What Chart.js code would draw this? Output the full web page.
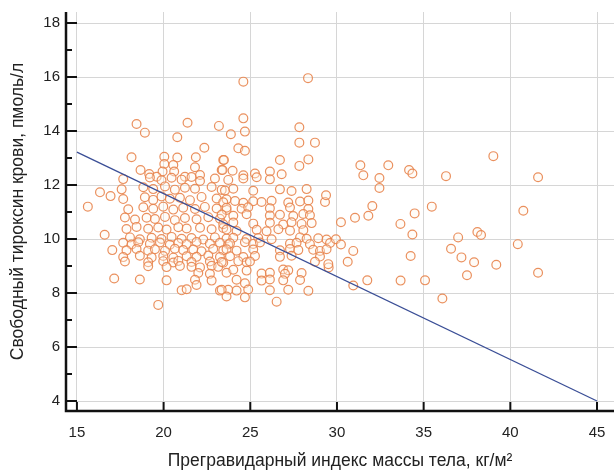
<!DOCTYPE html>
<html>
<head>
<meta charset="utf-8">
<script src="https://cdn.jsdelivr.net/npm/chart.js@4/dist/chart.umd.min.js"></script>
<style>
  html, body { margin: 0; padding: 0; background: #fff; }
  #wrap { width: 614px; height: 470px; }
</style>
</head>
<body>
<div id="wrap"><canvas id="chart" width="614" height="470"></canvas></div>
<script>
const upperLeft = [
  [18.44,14.26],[18.92,13.94],[21.38,14.31],[23.19,14.19],[20.79,13.77],[22.35,13.38],
  [18.15,13.03],[20.04,13.05],[20.79,13.02],[21.86,13.03],[23.44,12.93],[20.04,12.78],
  [20.56,12.74],[19.94,12.50],[20.61,12.50],[21.81,12.66],[18.67,12.56],[19.17,12.41],
  [19.60,12.31],[21.23,12.31],[22.10,12.37],[23.35,12.56]
];
const upperMid = [
  [24.60,15.83],[28.33,15.96],[24.60,14.47],[23.88,13.88],[24.69,13.98],[27.83,14.14],
  [27.83,13.57],[28.73,13.57],[24.31,13.36],[24.69,13.27],[23.48,12.93],[26.71,12.93],
  [28.35,12.95],[27.83,12.71],[23.40,12.56],[23.98,12.53],[24.60,12.36],[25.27,12.43],
  [26.13,12.50],[26.81,12.40]
];
const coreLeftHigh = [
  [17.67,12.22],[19.21,12.28],[19.88,12.18],[20.46,12.27],[21.04,12.20],[21.61,12.30],[22.10,12.15],[22.96,12.24],[23.73,12.19],
  [17.58,11.84],[18.83,11.92],[19.40,11.85],[20.08,11.95],[20.65,11.83],[21.23,11.90],[21.81,11.86],[22.77,11.93],[23.35,11.82],
  [17.67,11.48],[18.92,11.55],[19.40,11.45],[19.88,11.58],[20.36,11.49],[20.94,11.53],[21.52,11.44],[22.19,11.56],[23.06,11.50],[23.63,11.47],
  [17.96,11.10],[18.83,11.18],[19.40,11.12],[19.98,11.20],[20.56,11.09],[21.13,11.16],[21.81,11.11],[22.38,11.19],[23.06,11.13],[23.63,11.08],
  [17.77,10.80],[18.35,10.72],[19.02,10.79],[19.50,10.74],[20.08,10.82],[20.65,10.70],[21.23,10.78],[21.90,10.73],[22.58,10.81],[23.25,10.75],
  [17.86,10.37],[18.44,10.45],[19.11,10.38],[19.69,10.43],[20.17,10.35],[20.85,10.44],[21.33,10.39],[22.10,10.42],[22.77,10.36],[23.44,10.41],
  [18.06,10.06],[18.63,9.99],[19.31,10.05],[19.88,10.00],[20.46,10.08],[21.04,10.01],[21.61,10.04],[22.29,9.98],[22.96,10.06],[23.63,10.02]
];
const coreRightHigh = [
  [24.60,12.24],[25.37,12.29],[26.13,12.21],
  [23.54,11.80],[24.02,11.86],[25.17,11.79],[26.71,11.84],[27.38,11.78],[28.25,11.85],
  [23.44,11.36],[24.12,11.41],[24.60,11.34],[25.17,11.40],[25.65,11.37],[26.23,11.42],[27.19,11.35],[27.87,11.39],[28.35,11.43],[29.31,11.37],
  [23.63,11.16],[24.50,11.12],[24.88,11.18],[26.13,11.14],[27.29,11.17],[28.35,11.11],
  [23.35,10.91],[24.02,10.86],[24.79,10.92],[26.13,10.87],[26.71,10.90],[27.48,10.85],[28.06,10.93],[28.44,10.88],
  [23.44,10.55],[24.02,10.61],[25.17,10.57],[26.13,10.60],[26.90,10.54],[27.38,10.62],[27.96,10.56],[28.54,10.59],
  [23.63,10.35],[24.21,10.30],[25.37,10.34],[25.94,10.29],[26.62,10.36],[27.29,10.31],[28.06,10.33],
  [24.02,10.05],[24.79,10.00],[25.46,10.04],[26.23,9.99],[27.87,10.06],[28.25,10.01],[28.92,10.03],[29.40,9.98]
];
const coreLeftLow = [
  [17.67,9.86],[18.15,9.80],[18.54,9.88],[19.21,9.82],[19.79,9.87],[20.36,9.79],[20.85,9.85],[21.33,9.81],[21.90,9.89],[22.67,9.83],[23.25,9.86],[23.73,9.80],
  [17.86,9.58],[18.44,9.63],[19.11,9.57],[19.50,9.62],[20.08,9.56],[20.65,9.64],[21.13,9.59],[21.71,9.61],[22.19,9.55],[22.86,9.63],[23.44,9.58],
  [17.67,9.33],[18.63,9.38],[19.31,9.32],[19.98,9.37],[20.56,9.31],[21.33,9.36],[21.90,9.34],[22.58,9.39],[23.25,9.33],
  [17.77,9.17],[19.11,9.14],[19.98,9.18],[20.56,9.13],[20.85,9.19],[21.61,9.15],[22.67,9.17],[23.44,9.12],
  [19.11,8.99],[20.17,8.96],[20.94,9.00],[21.61,8.97],[22.10,8.95],[22.77,9.01],[23.15,8.97],
  [22.00,8.74],[22.67,8.71],[23.63,8.75],
  [18.63,8.50],[20.17,8.47],[21.81,8.49],[22.77,8.46],[21.90,8.30],
  [21.04,8.10],[21.33,8.14],[23.25,8.09],[23.73,8.12],[19.69,7.56]
];
const coreRightLow = [
  [23.83,9.84],[24.69,9.88],[25.17,9.82],[25.56,9.87],[27.29,9.83],[27.67,9.86],[28.44,9.81],[29.60,9.85],
  [23.63,9.62],[24.21,9.57],[25.17,9.61],[26.71,9.58],[27.29,9.63],[27.77,9.59],[28.63,9.60],[29.02,9.56],[29.40,9.62],
  [23.83,9.36],[24.60,9.33],[25.27,9.37],[26.71,9.34],[27.38,9.38],[29.02,9.35],
  [23.35,9.15],[24.31,9.18],[24.79,9.14],[24.98,9.17],[28.73,9.16],
  [24.02,8.86],[24.79,8.83],[26.90,8.87],[27.19,8.84],
  [25.65,8.72],[26.13,8.75],[27.00,8.71],[27.96,8.74],
  [24.21,8.49],[25.65,8.46],[26.13,8.50],[26.90,8.47],[27.87,8.48],[24.69,8.36],
  [23.35,8.12],[24.21,8.09],[24.88,8.13],[26.13,8.10],[27.19,8.12],[28.35,8.08],
  [23.63,7.87],[24.69,7.84],[26.52,7.68]
];
const rightTail = [
  [31.35,12.73],[32.96,12.73],[34.16,12.56],[34.35,12.43],[31.52,12.36],[32.45,12.26],[32.45,11.89],
  [29.37,11.62],[32.04,11.22],[31.81,10.86],[34.48,10.95],[35.47,11.20],[33.66,10.56],[34.35,10.17],
  [31.04,10.79],[30.23,10.62],[34.25,9.37],[30.94,9.56],[30.62,9.16],[31.75,8.47],[33.67,8.46],
  [35.08,8.47],[30.94,8.28],[29.94,9.99],[30.23,9.80],[29.52,8.95],[29.50,9.07],
  [39.02,13.07],[36.29,12.33],[41.60,12.29],[40.75,11.05],[38.10,10.26],[38.31,10.15],[36.99,10.06],
  [40.43,9.81],[36.58,9.64],[37.18,9.32],[37.91,9.14],[39.19,9.05],[37.50,8.66],[41.60,8.75],[36.08,7.80]
];
const leftTail = [
  [15.63,11.20],[16.33,11.73],[16.94,11.59],[16.60,10.16],[17.04,9.59],[17.15,8.54]
];

// линия регрессии
const fitX = [15, 45];
const fitY = [13.22, 4.0];

const xTicks = [15, 20, 25, 30, 35, 40, 45];
const yTicks = [4, 6, 8, 10, 12, 14, 16, 18];

const groups = [upperLeft, upperMid, coreLeftHigh, coreRightHigh, coreLeftLow, coreRightLow, rightTail, leftTail];
const points = [];
groups.forEach(g => g.forEach(p => points.push({ x: p[0], y: p[1] })));

const family = "'Liberation Sans', Arial, sans-serif";
const tickFont = { family: family, size: 15 };
const titleFont = { family: family, size: 17.5, lineHeight: 1 };

// оси как в оригинале: толстые чёрные линии, засечки внутрь
const axesPlugin = {
  id: "axesPlugin",
  afterDraw(chart) {
    const ctx = chart.ctx;
    const xs = chart.scales.x, ys = chart.scales.y;
    const a = chart.chartArea;
    ctx.save();
    ctx.strokeStyle = "#111";
    ctx.lineWidth = 2.5;
    ctx.beginPath();
    ctx.moveTo(a.left, a.top);
    ctx.lineTo(a.left, a.bottom);
    ctx.lineTo(a.right, a.bottom);
    ctx.stroke();
    ctx.lineWidth = 2;
    ctx.beginPath();
    for (let v = 4; v <= 18; v++) {
      const py = ys.getPixelForValue(v);
      const len = v % 2 === 0 ? 11 : 6;
      ctx.moveTo(a.left, py);
      ctx.lineTo(a.left + len, py);
    }
    xTicks.forEach(v => {
      const px = xs.getPixelForValue(v);
      ctx.moveTo(px, a.bottom);
      ctx.lineTo(px, a.bottom - 9);
    });
    ctx.stroke();
    ctx.restore();
  }
};

function noPad(s) {
  s.paddingLeft = 0;
  s.paddingRight = 0;
  s.paddingTop = 0;
  s.paddingBottom = 0;
}

new Chart(document.getElementById("chart"), {
  type: "scatter",
  data: {
    datasets: [
      {
        type: "line",
        data: fitX.map((x, i) => ({ x: x, y: fitY[i] })),
        borderColor: "#3a4e96",
        borderWidth: 1.3,
        pointRadius: 0,
        fill: false,
        order: 0
      },
      {
        data: points,
        pointRadius: 4.4,
        borderWidth: 1.2,
        borderColor: "rgba(232,132,76,0.9)",
        backgroundColor: "rgba(255,245,235,0.35)",
        order: 1
      }
    ]
  },
  options: {
    responsive: false,
    animation: false,
    layout: { autoPadding: false, padding: { top: 12, right: 0, left: 0, bottom: 0 } },
    plugins: { legend: { display: false }, tooltip: { enabled: false } },
    scales: {
      x: {
        type: "linear",
        min: 14.37,
        max: 45.98,
        afterFit: s => { s.height = 59; noPad(s); },
        grid: { color: "#d6d6d6", lineWidth: 1, drawTicks: false },
        border: { display: false },
        ticks: {
          stepSize: 5,
          includeBounds: false,
          padding: 13,
          color: "#222",
          font: tickFont,
          maxRotation: 0
        },
        title: {
          display: true,
          text: "Прегравидарный индекс массы тела, кг/м²",
          color: "#222",
          font: titleFont,
          padding: { top: 0, bottom: 0 }
        }
      },
      y: {
        type: "linear",
        min: 3.63,
        max: 18.41,
        afterFit: s => { s.width = 66; noPad(s); },
        grid: { color: "#d6d6d6", lineWidth: 1, drawTicks: false },
        border: { display: false },
        ticks: {
          stepSize: 2,
          includeBounds: false,
          padding: 6,
          color: "#222",
          font: tickFont
        },
        title: {
          display: true,
          text: "Свободный тироксин крови, пмоль/л",
          color: "#222",
          font: titleFont,
          padding: { top: 9, bottom: 0 }
        }
      }
    }
  },
  plugins: [axesPlugin]
});
</script>
</body>
</html>
